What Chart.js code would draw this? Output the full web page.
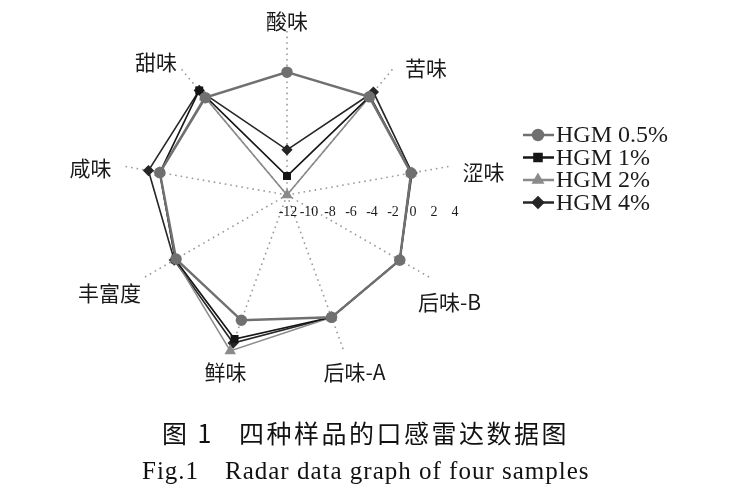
<!DOCTYPE html>
<html>
<head>
<meta charset="utf-8">
<script src="https://cdn.jsdelivr.net/npm/chart.js@4.4.0/dist/chart.umd.min.js"></script>
<style>
html, body { margin: 0; padding: 0; background: #fff; }
#wrap { position: relative; width: 740px; height: 498px; }
</style>
</head>
<body>
<div id="wrap"><canvas id="radar" width="740" height="498"></canvas></div>
<script>
// chart data
const categories = ['酸味', '苦味', '涩味', '后味-B', '后味-A', '鲜味', '丰富度', '咸味', '甜味'];
const hgm05 = [-0.3, 0.2, 0.0, 0.4, 0.4, 0.7, 0.2, 0.3, 0.1];
const hgm1 = [-10.2, 0.3, 0.0, 0.4, 0.4, 2.6, 0.3, 0.3, 1.0];
const hgm2 = [-12, 0.2, 0.0, 0.4, 0.4, 3.8, 0.3, 0.3, 0.2];
const hgm4 = [-7.7, 0.8, 0.1, 0.4, 0.4, 3.0, 0.4, 1.4, 1.0];
const seriesNames = ['HGM 0.5%', 'HGM 1%', 'HGM 2%', 'HGM 4%'];
const tickValues = [-12, -10, -8, -6, -4, -2, 0, 2, 4];

// label nudges from the end of each axis
const labelOffsets = [[0, -6], [31, 2], [31, 6], [17, 23], [10, 19], [-4, 19], [-32, 14], [-31, 2], [-23, -4]];

function makeSet(label, data, color, style, width) {
    return {
        label: label,
        data: data,
        borderColor: color,
        backgroundColor: color,
        pointBackgroundColor: color,
        pointBorderColor: color,
        pointStyle: style,
        pointRadius: style === 'triangle' ? 5 : 4.5,
        borderWidth: width,
        fill: false
    };
}

const extras = {
    id: 'extras',
    afterDraw(chart) {
        const ctx = chart.ctx;
        const scale = chart.scales.r;
        const cx = scale.xCenter, cy = scale.yCenter;
        ctx.save();

        // axis names
        ctx.fillStyle = '#1a1a1a';
        ctx.font = '21px "Noto Sans CJK SC"';
        ctx.textAlign = 'center';
        ctx.textBaseline = 'middle';
        categories.forEach((c, i) => {
            const p = scale.getPointPosition(i, scale.drawingArea);
            ctx.fillText(c, p.x + labelOffsets[i][0], p.y + labelOffsets[i][1]);
        });

        // tick labels along the horizontal
        ctx.font = '14px "Liberation Serif"';
        tickValues.forEach(v => {
            const x = cx + scale.getDistanceFromCenterForValue(v) + (v < 0 ? 1 : 0);
            ctx.fillText(String(v), x, cy + 17);
        });

        // legend
        ctx.textAlign = 'left';
        ctx.font = '24px "Liberation Serif"';
        chart.data.datasets.forEach((ds, i) => {
            const y = 135 + i * 22.5;
            ctx.strokeStyle = ds.borderColor;
            ctx.fillStyle = ds.borderColor;
            ctx.lineWidth = 2.5;
            ctx.beginPath();
            ctx.moveTo(523, y);
            ctx.lineTo(554, y);
            ctx.stroke();
            Chart.helpers.drawPoint(ctx, { pointStyle: ds.pointStyle, rotation: 0, radius: 5, borderWidth: 1 }, 538, y);
            ctx.fillStyle = '#1a1a1a';
            ctx.fillText(ds.label, 556, y + 1);
        });

        // captions
        ctx.fillStyle = '#111';
        ctx.font = '25px "Noto Sans CJK SC"';
        ctx.letterSpacing = '2.5px';
        ctx.fillText('图 1', 162, 433);
        ctx.fillText('四种样品的口感雷达数据图', 239, 433);
        ctx.font = '25px "Liberation Serif"';
        ctx.letterSpacing = '1px';
        ctx.fillText('Fig.1', 142, 472);
        ctx.fillText('Radar data graph of four samples', 225, 472);
        ctx.restore();
    }
};

const chart = new Chart(document.getElementById('radar'), {
    type: 'radar',
    data: {
        labels: categories,
        datasets: [
            makeSet(seriesNames[0], hgm05, '#707070', 'circle', 2.5),
            makeSet(seriesNames[1], hgm1, '#161616', 'rect', 1.6),
            makeSet(seriesNames[2], hgm2, '#8a8a8a', 'triangle', 1.6),
            makeSet(seriesNames[3], hgm4, '#262626', 'rectRot', 1.6)
        ]
    },
    options: {
        responsive: false,
        animation: false,
        layout: { padding: { left: 119, right: 285, top: 27, bottom: 135 } },
        plugins: { legend: { display: false }, tooltip: { enabled: false } },
        elements: { line: { tension: 0 } },
        scales: {
            r: {
                min: -12,
                max: 4,
                ticks: { display: false, stepSize: 2 },
                grid: { display: false },
                angleLines: { display: true, color: '#9a9a9a', lineWidth: 1.6, borderDash: [1.6, 4] },
                pointLabels: { display: false }
            }
        }
    },
    plugins: [extras]
});
</script>
</body>
</html>
